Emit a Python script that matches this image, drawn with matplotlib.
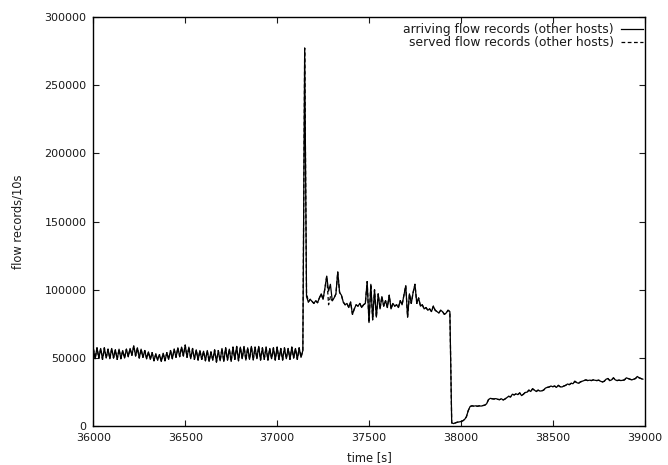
import numpy as np
import matplotlib
matplotlib.use("Agg")
import matplotlib.pyplot as plt

# flow records per 10 s bin, other hosts, 36000 s .. 38990 s
STEP = 10
T0 = 36000

# steady phase before the burst (36000 .. 37140)
steady = [
    57000, 49500, 57500, 50000, 57000, 49000, 57500, 50000, 56500, 49500,
    57000, 50000, 56000, 49000, 56500, 49500, 55500, 50000, 56500, 51000,
    57000, 52000, 59000, 51500, 57500, 50000, 56500, 50500, 55500, 49500,
    54500, 49000, 54000, 48000, 53000, 48500, 52500, 47500, 53500, 48000,
    54000, 49000, 55500, 49500, 56500, 50500, 57500, 51000, 58000, 51500,
    59500, 50500, 58000, 49500, 57000, 49000, 56000, 48500, 55500, 49000,
    55000, 48000, 55500, 47500, 54500, 48500, 56000, 47000, 55500, 48000,
    57000, 47500, 57500, 48500, 56500, 47500, 58000, 49000, 58500, 48000,
    58000, 49500, 58500, 48500, 57500, 49000, 58500, 48500, 58000, 49500,
    58500, 48500, 57500, 49000, 58000, 48500, 57000, 49500, 57500, 48500,
    58000, 49000, 57000, 48500, 57500, 49500, 57000, 49000, 58000, 50000,
    57000, 49000, 57500, 50500, 55500,
]

# burst and overload phase (37150 .. 37940)
overload = [
    277000, 95000, 91000, 93000, 91500, 90000, 92000, 90500, 94000, 97000,
    93000, 101000, 110000, 99000, 104000, 92000, 94000, 97000, 113000, 98000,
    96000, 91000, 89000, 90000, 87000, 91000, 82000, 86000, 89000, 88000,
    90000, 87000, 89000, 90000, 106000, 76000, 104000, 78000, 100000, 80000,
    97000, 86000, 95000, 88000, 92000, 87000, 96000, 86000, 90000, 88000,
    89000, 87000, 92000, 89000, 96000, 103000, 80000, 97000, 90000, 98000,
    104000, 90000, 94000, 88000, 89000, 86000, 87000, 85000, 86000, 84000,
    88000, 85000, 84000, 83000, 85000, 84000, 82000, 83000, 85000, 84000,
]

# recovery after the collector restart (37950 .. 38990)
recovery = [
    2500, 2000, 2500, 3000, 3200, 3500, 4000, 5000, 7000, 11500,
    14500, 15000, 14800, 15000, 14700, 15000, 14800, 15200, 15500, 16500,
    19500, 20500, 20200, 20000, 20300, 19800, 19500, 20200, 19300, 20000,
    21000, 22000, 21500, 23500, 23000, 23800, 23200, 24500, 22500, 23500,
    24800, 25000, 26500, 25500, 27500, 26500, 25500, 26500, 25800, 26000,
    26500, 28000, 28500, 28800, 29500, 29000, 29500, 28500, 30000, 29000,
    28800, 29500, 30000, 31000, 30500, 31500, 31200, 33000, 32000, 31500,
    32500, 33000, 33500, 34000, 33500, 33800, 33500, 34000, 33700, 33500,
    33800, 33000, 32500, 33000, 34500, 35000, 33500, 34000, 35500, 34000,
    33500, 33800, 33500, 33700, 34000, 35500, 35000, 34500, 34000, 34500,
    35000, 36500, 35500, 35000, 34500,
]

arriving = np.array(steady + overload + recovery, dtype=float)
time = T0 + STEP * np.arange(len(arriving))

# served records only differ from arrivals right after the burst
served = arriving.copy()
served_diff = {37160: 98000, 37280: 89000, 37290: 95000}
for t, v in served_diff.items():
    served[(t - T0) // STEP] = v

INK = "#1a1a1a"
plt.rcParams.update({
    "font.family": ["DejaVu Sans"],
    "font.size": 8,
    "text.color": INK,
    "axes.labelcolor": INK,
    "xtick.color": INK, "ytick.color": INK,
    "axes.linewidth": 1.0,
    "xtick.direction": "in", "ytick.direction": "in",
    "xtick.top": True, "ytick.right": True,
    "xtick.major.size": 4.5, "ytick.major.size": 4.5,
    "xtick.major.pad": 4.5, "ytick.major.pad": 5,
})

fig = plt.figure(figsize=(6.68, 4.65), dpi=100)
ax = fig.add_axes([0.1397, 0.0832, 0.8254, 0.8809])

ax.plot(time, arriving, color="black", lw=0.9, label="arriving flow records (other hosts)")
ax.plot(time, served, color="black", lw=0.9, ls=(0, (3, 2)), label="served flow records (other hosts)")

ax.set_xlim(36000, 39000)
ax.set_ylim(0, 300000)
ax.set_xticks(np.arange(36000, 39001, 500))
ax.set_yticks(np.arange(0, 300001, 50000))
ax.set_xlabel("time [s]", labelpad=6, fontsize=8.3)
ax.set_ylabel("flow records/10s", labelpad=14, fontsize=8.3)

ax.legend(loc="upper right", bbox_to_anchor=(0.997, 0.985), frameon=False,
          markerfirst=False, borderaxespad=0, borderpad=0, handlelength=1.8,
          handletextpad=0.55, labelspacing=0.0, fontsize=8.9)

fig.savefig("out.png", dpi=100)
